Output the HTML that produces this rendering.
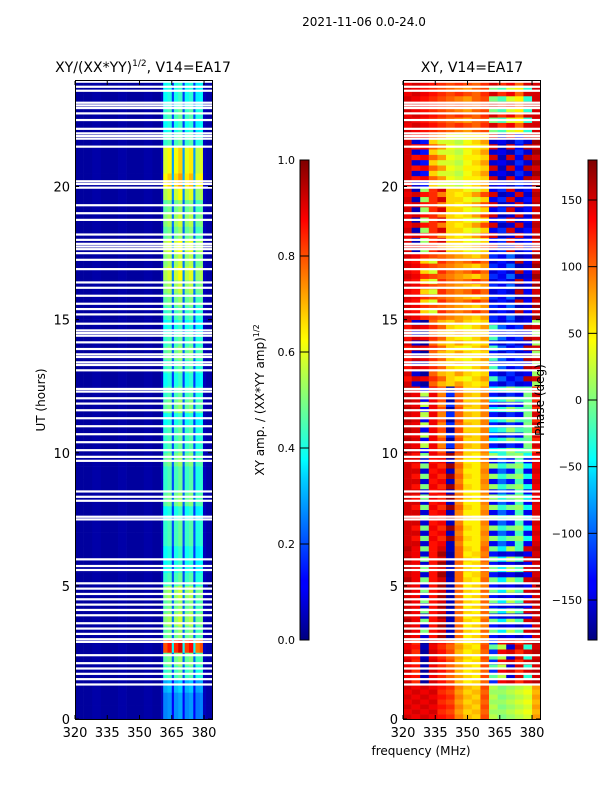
<!DOCTYPE html>
<html><head><meta charset="utf-8"><style>
body{margin:0;background:#fff;width:600px;height:800px;overflow:hidden;font-family:"DejaVu Sans","Liberation Sans",sans-serif}
svg text{font-family:"DejaVu Sans","Liberation Sans",sans-serif;fill:#000}
</style></head><body>
<svg id="fig" width="600" height="800" xmlns="http://www.w3.org/2000/svg">
<defs>
<linearGradient id="jet" x1="0" y1="1" x2="0" y2="0">
<stop offset="0" stop-color="#00007f"/><stop offset="0.11" stop-color="#0000ff"/><stop offset="0.125" stop-color="#0000ff"/>
<stop offset="0.34" stop-color="#00d4ff"/><stop offset="0.375" stop-color="#00ffff"/><stop offset="0.5" stop-color="#7fff7f"/>
<stop offset="0.625" stop-color="#ffff00"/><stop offset="0.66" stop-color="#ffe000"/><stop offset="0.875" stop-color="#ff0000"/><stop offset="1" stop-color="#7f0000"/>
</linearGradient>
</defs>
<text x="364" y="26" font-size="12" text-anchor="middle">2021-11-06 0.0-24.0</text>
<text x="143" y="72" font-size="14" text-anchor="middle">XY/(XX*YY)<tspan font-size="9" dy="-6">1/2</tspan><tspan dy="6">, V14=EA17</tspan></text>
<text x="472" y="72" font-size="14" text-anchor="middle">XY, V14=EA17</text>
<g id="left"></g>
<g id="right"></g>
<g id="axes"></g>
<text transform="translate(45,400) rotate(-90)" font-size="12" text-anchor="middle">UT (hours)</text>
<text x="421" y="755" font-size="12" text-anchor="middle">frequency (MHz)</text>
<rect x="300" y="160" width="9" height="480" fill="url(#jet)" stroke="#000" stroke-width="1"/>
<rect x="588" y="160" width="9" height="480" fill="url(#jet)" stroke="#000" stroke-width="1"/>
<text transform="translate(264,400) rotate(-90)" font-size="12" text-anchor="middle">XY amp. / (XX*YY amp)<tspan font-size="8" dy="-5">1/2</tspan></text>
<text transform="translate(544,400) rotate(-90)" font-size="12" text-anchor="middle">Phase (deg)</text>
<g id="cb"></g>
</svg>
<script>
const NS="http://www.w3.org/2000/svg";
// ---- data ----
const ampColumnsMHz=[320,324,328,332,336,340,344,348,352,356,360,361,363,365,366,368,370,371,373,375,376,378,379.5,381];
const ampColumnValues=[0.03,0.03,0.04,0.03,0.03,0.04,0.03,0.03,0.04,0.03,0.06,0.42,0.45,0.2,0.44,0.48,0.2,0.43,0.46,0.2,0.4,0.42,0.06,0.04];
const ampRowGains=[0.6,0.6,0.7,1.0,1.1,1.9,1.1,1.2,1.1,1.2,1.0,0.9,0.9,1.0,1.0,0.9,1.1,1.0,1.0,1.1,1.0,1.0,0.9,1.1,1.0,0.9,1.0,1.1,1.0,0.9,1.0,1.1,1.2,1.3,1.2,1.3,1.1,1.2,1.1,1.3,1.5,1.4,1.4,1.0,0.9,1.0,0.9,0.9];
const gapHours=[23.94,23.75,23.6,23.15,23.05,22.95,22.75,22.5,22.17,22.0,21.9,21.8,21.5,20.2,20.1,19.96,19.3,19.0,18.75,18.2,18.0,17.85,17.75,17.65,17.5,17.25,16.9,16.4,16.2,15.9,15.6,15.4,15.2,14.85,14.6,14.5,14.4,14.15,13.9,13.7,13.6,13.4,13.3,13.1,12.4,12.3,12.05,11.85,11.6,11.3,11.0,10.7,10.4,10.1,9.85,9.7,8.55,8.35,8.2,7.6,7.5,6.0,5.75,5.6,5.1,4.9,4.7,4.5,4.3,4.1,3.9,3.6,3.4,3.2,3.0,2.9,2.4,2.1,1.9,1.7,1.5,1.3];
const phaseBandStart=[0,1.3,3.0,6.5,10,12.5,15,17.5,20,22];
const phaseBandEnd=[1.3,3.0,6.5,10,12.5,15,17.5,20,22,24];
const phaseA=[[150,140,150,140,130,120,90,70,60,110,20,0,10,20,30,80],[150,120,-170,150,130,110,70,50,60,100,-120,140,150,120,150,160],[150,140,-150,130,170,-170,100,50,60,90,-130,-150,-140,-160,-140,150],[150,150,-150,130,140,-160,90,50,50,90,-140,-100,-130,-20,-140,150],[160,150,-140,140,110,-170,110,60,60,90,-50,-30,10,-20,-10,120],[150,-150,-170,100,70,60,80,60,50,60,-130,-150,-120,-150,-140,10],[150,140,120,110,100,90,80,70,60,80,-120,-140,-100,-160,-150,170],[150,-160,10,120,150,60,60,40,30,60,-140,-120,150,-150,-130,150],[150,-150,-130,60,30,30,20,40,60,80,-150,-140,-160,-120,-150,170],[150,140,130,120,110,100,90,80,100,110,0,-20,30,50,-30,150]];
const phaseB=[[140,150,140,150,120,110,80,60,70,100,10,10,20,30,40,70],[140,130,-160,140,120,100,80,60,50,110,-10,20,-150,150,-30,150],[160,140,0,130,150,-160,100,60,50,100,0,-50,20,-20,150,160],[150,130,0,140,120,170,100,60,50,80,10,-30,0,10,-40,140],[150,140,20,140,90,-120,100,70,60,90,-130,-150,-120,-140,0,150],[130,150,140,120,100,60,50,40,60,80,-20,-100,-140,-120,160,150],[140,130,60,30,120,100,90,100,120,100,-150,-130,-150,160,-140,150],[140,150,130,120,90,60,50,60,80,110,150,-160,-150,150,-150,160],[150,130,140,100,80,40,30,50,50,60,150,-160,150,-140,160,150],[140,150,140,130,120,110,120,110,100,120,150,120,140,100,150,150]];
const xTicks=[320,335,350,365,380];
const yTicks=[0,5,10,15,20];
const ampTicks=[0.0,0.2,0.4,0.6,0.8,1.0];
const phaseTicks=[-150,-100,-50,0,50,100,150];
// ---- scales ----
const Y0=719,Y1=80,F0=320,F1=383.7;
const yS=h=>Y0-(h/24)*(Y0-Y1);
const xL=f=>75+(f-F0)/(F1-F0)*137;
const xR=f=>403+(f-F0)/(F1-F0)*137;
function jet(v){v=Math.max(0,Math.min(1,v));
 const c=x=>Math.round(255*Math.max(0,Math.min(1,1.5-Math.abs(4*v-x))));
 return `rgb(${c(3)},${c(2)},${c(1)})`;}
function rect(g,x,y,w,h,fill,name){const r=document.createElementNS(NS,'rect');
 r.setAttribute('x',x);r.setAttribute('y',y);r.setAttribute('width',w);r.setAttribute('height',h);r.setAttribute('fill',fill);
 
 
 g.appendChild(r);return r;}
const L=document.getElementById('left'),R=document.getElementById('right');
for(let i=0;i<ampRowGains.length;i++){
 const h0=i*0.5,y=yS(h0+0.5),hh=yS(h0)-y;
 for(let j=0;j<ampColumnsMHz.length;j++){
  const f0=ampColumnsMHz[j],f1=j+1<ampColumnsMHz.length?ampColumnsMHz[j+1]:F1;
  const base=ampColumnValues[j];const v=base>0.15?base*ampRowGains[i]:base;
  rect(L,xL(f0),y,xL(f1)-xL(f0)+0.3,hh+0.3,jet(v),'amp-cell');
 }}
for(let b=0;b<phaseBandStart.length;b++){
 const n=Math.round((phaseBandEnd[b]-phaseBandStart[b])/0.2);
 const dh=(phaseBandEnd[b]-phaseBandStart[b])/n;
 for(let r=0;r<n;r++){
  const prof=r%2?phaseB[b]:phaseA[b];
  const y=yS(phaseBandStart[b]+(r+1)*dh),hh=yS(phaseBandStart[b]+r*dh)-y;
  for(let j=0;j<16;j++){
   const f0=F0+4*j,f1=Math.min(F1,f0+4);
   rect(R,xR(f0),y,xR(f1)-xR(f0)+0.3,hh+0.3,jet((prof[j]+180)/360),'phase-cell');
  }}}
for(const g of gapHours){
 rect(L,75,yS(g)-1,137,2.2,'#fff','data-gap');
 rect(R,403,yS(g)-1,137,2.2,'#fff','data-gap');
}
const A=document.getElementById('axes');
function line(g,x1,y1,x2,y2,name){const l=document.createElementNS(NS,'line');
 l.setAttribute('x1',x1);l.setAttribute('y1',y1);l.setAttribute('x2',x2);l.setAttribute('y2',y2);l.setAttribute('stroke','#000');
 
 
 g.appendChild(l);}
function text(g,x,y,s,anchor,size,name){const t=document.createElementNS(NS,'text');
 t.setAttribute('x',x);t.setAttribute('y',y);t.setAttribute('text-anchor',anchor);t.setAttribute('font-size',size);t.textContent=s;
 
 
 g.appendChild(t);}
[[75,xL],[403,xR]].forEach(([x0,xs])=>{
 const fr=document.createElementNS(NS,'rect');
 fr.setAttribute('x',x0+0.5);fr.setAttribute('y',80.5);fr.setAttribute('width',137);fr.setAttribute('height',639);fr.setAttribute('fill','none');fr.setAttribute('stroke','#000');
 
 
 A.appendChild(fr);
 xTicks.forEach(t=>{const x=xs(t);line(A,x,719,x,715,'x-tick');line(A,x,81,x,85,'x-tick');text(A,x,737,String(t),'middle',13,'x-tick-label');});
 yTicks.forEach(t=>{const y=yS(t);line(A,x0,y,x0+4,y,'y-tick');line(A,x0+137,y,x0+133,y,'y-tick');text(A,x0-5,y+5,String(t),'end',13,'y-tick-label');});
});
const C=document.getElementById('cb');
ampTicks.forEach(t=>{const y=640-t*480;line(C,300,y,309,y,'amp-colorbar-tick');text(C,295,y+4,t.toFixed(1),'end',11,'amp-colorbar-tick-label');});
phaseTicks.forEach(t=>{const y=400-t*480/360;line(C,588,y,597,y,'phase-colorbar-tick');text(C,582,y+4,String(t).replace('-','\u2212'),'end',11,'phase-colorbar-tick-label');});
</script>
</body></html>
